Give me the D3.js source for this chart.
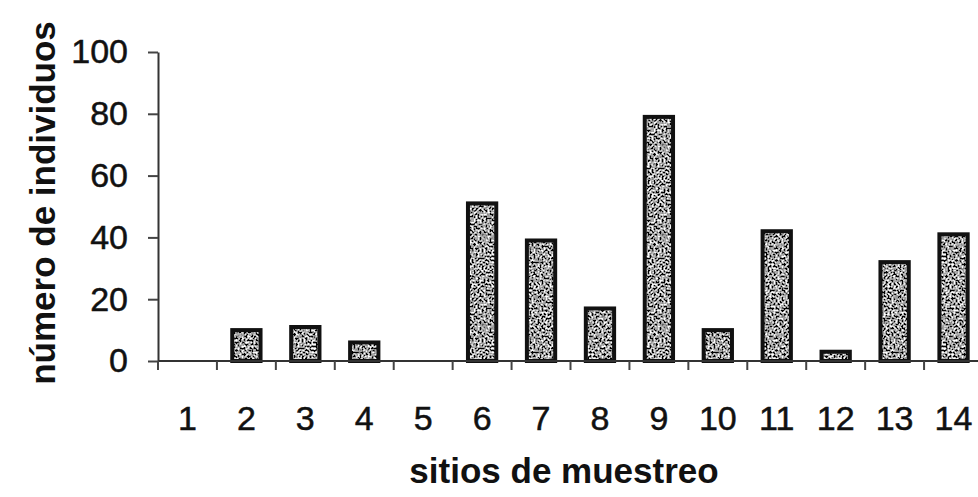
<!DOCTYPE html>
<html>
<head>
<meta charset="utf-8">
<script src="https://cdn.jsdelivr.net/npm/d3@7/dist/d3.min.js"></script>
<style>
  html, body { margin: 0; padding: 0; background: #fff; }
  svg { display: block; }
</style>
</head>
<body>
<svg id="chart" width="978" height="497"></svg>
<script>
// Sampling sites and number of individuals counted at each
const sites = ["1", "2", "3", "4", "5", "6", "7", "8", "9", "10", "11", "12", "13", "14"];
const individuals = [0, 10, 11, 6, 0, 51, 39, 17, 79, 10, 42, 3, 32, 41];
const yTicks = [0, 20, 40, 60, 80, 100];
const xTitle = "sitios de muestreo";
const yTitle = "número de individuos";

const svg = d3.select("#chart");
const font = "'Liberation Sans', Arial, Helvetica, sans-serif";

const plot = { left: 158, right: 983, top: 52, bottom: 361 };

const x = d3.scaleBand()
  .domain(sites)
  .range([plot.left, plot.right])
  .paddingInner(0.52)
  .paddingOuter(0.26);

const y = d3.scaleLinear()
  .domain([0, 100])
  .range([plot.bottom, plot.top]);

// grainy grey texture used inside the bars
const defs = svg.append("defs");
const f = defs.append("filter").attr("id", "noise")
  .attr("x", 0).attr("y", 0).attr("width", 1).attr("height", 1);
f.append("feTurbulence")
  .attr("type", "fractalNoise").attr("baseFrequency", 0.5)
  .attr("numOctaves", 2).attr("seed", 7).attr("result", "n");
f.append("feColorMatrix").attr("in", "n").attr("type", "matrix")
  .attr("values", "3.2 0 0 0 -1.25  3.2 0 0 0 -1.25  3.2 0 0 0 -1.25  0 0 0 0 1");
const pat = defs.append("pattern").attr("id", "speckle")
  .attr("patternUnits", "userSpaceOnUse").attr("width", 90).attr("height", 90);
pat.append("rect").attr("width", 90).attr("height", 90).attr("filter", "url(#noise)");

// bars
const data = sites.map((s, i) => ({ site: s, value: individuals[i] })).filter(d => d.value > 0);
svg.append("g").selectAll("rect")
  .data(data)
  .join("rect")
  .attr("x", d => x(d.site))
  .attr("y", d => y(d.value))
  .attr("width", x.bandwidth())
  .attr("height", d => y(0) - y(d.value))
  .attr("fill", "url(#speckle)")
  .attr("stroke", "#111")
  .attr("stroke-width", 4);

// y axis
const yAxis = svg.append("g")
  .attr("transform", `translate(${plot.left},0)`)
  .call(d3.axisLeft(y).tickValues(yTicks).tickSize(10).tickPadding(20).tickSizeOuter(0));
yAxis.select(".domain").attr("stroke", "#333").attr("stroke-width", 2);
yAxis.selectAll(".tick line").attr("stroke", "#444").attr("stroke-width", 2);
yAxis.selectAll(".tick text")
  .attr("font-family", font).attr("font-size", 34).attr("fill", "#111")
  .attr("stroke", "#111").attr("stroke-width", 0.5);

// x axis: line, boundary ticks, centred labels
const xg = svg.append("g");
xg.append("line")
  .attr("x1", plot.left).attr("x2", 978)
  .attr("y1", y(0)).attr("y2", y(0))
  .attr("stroke", "#333").attr("stroke-width", 2);
const half = x.step() * x.paddingInner() / 2;
const bounds = sites.map(s => x(s) - half);
xg.selectAll(".bt")
  .data(bounds)
  .join("line")
  .attr("class", "bt")
  .attr("x1", d => d).attr("x2", d => d)
  .attr("y1", y(0)).attr("y2", y(0) + 9)
  .attr("stroke", "#444").attr("stroke-width", 2);
xg.selectAll(".xl")
  .data(sites)
  .join("text")
  .attr("class", "xl")
  .attr("x", d => x(d) + x.bandwidth() / 2)
  .attr("y", 430)
  .attr("text-anchor", "middle")
  .attr("font-family", font).attr("font-size", 34).attr("fill", "#111")
  .attr("stroke", "#111").attr("stroke-width", 0.5)
  .text(d => d);

// axis titles
svg.append("text")
  .attr("x", 564).attr("y", 483)
  .attr("text-anchor", "middle")
  .attr("font-family", font).attr("font-weight", "bold").attr("font-size", 35)
  .attr("fill", "#111")
  .text(xTitle);

svg.append("text")
  .attr("transform", "translate(55,203) rotate(-90)")
  .attr("text-anchor", "middle")
  .attr("font-family", font).attr("font-weight", "bold").attr("font-size", 35)
  .attr("fill", "#111")
  .text(yTitle);
</script>
</body>
</html>
